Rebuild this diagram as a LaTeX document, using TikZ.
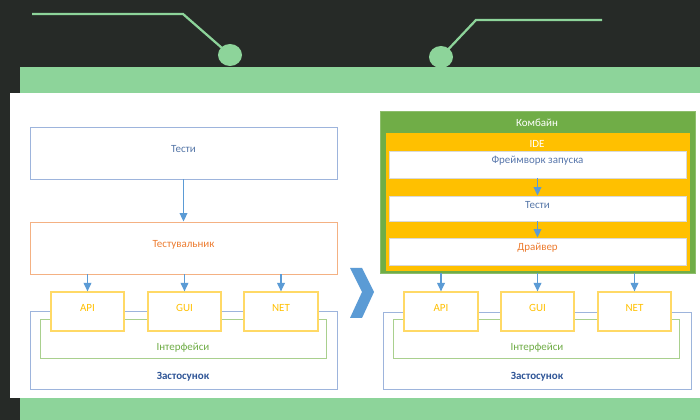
\documentclass[tikz,border=0pt]{standalone}
\usepackage{fontspec}
\setmainfont{Carlito}
\usetikzlibrary{arrows.meta,fit}
\definecolor{darkbg}{HTML}{262A27}
\definecolor{band}{HTML}{8DD49A}
\definecolor{boxblue}{HTML}{9DB4DC}
\definecolor{txtblue}{HTML}{5677A8}
\definecolor{navy}{HTML}{2F5597}
\definecolor{peach}{HTML}{F4B183}
\definecolor{tangerine}{HTML}{ED7D31}
\definecolor{sun}{HTML}{FFD966}
\definecolor{gold}{HTML}{FFC000}
\definecolor{leaf}{HTML}{A9D08E}
\definecolor{grass}{HTML}{70AD47}
\definecolor{arrowblue}{HTML}{5B9BD5}

\begin{document}
\begin{tikzpicture}[x=0.025cm,y=-0.025cm,font=\fontsize{7.8}{9}\selectfont,
  region/.style={inner sep=0pt,line width=0.7pt},
  port/.style={region,draw=sun,line width=0.9pt,fill=white,text=gold},
  panel/.style={region,fill=white,draw=black!15},
  link/.style={draw=arrowblue,line width=0.8pt,-{Triangle[length=6pt,width=5.5pt]}},
  wire/.style={draw=band,line width=1.6pt}]
% backdrop
\fill[darkbg] (0,0) rectangle (700,420);
\fill[band] (20,67) rectangle (700,93);
\fill[band] (20,398) rectangle (700,420);
\fill[white] (10,93) rectangle (700,398);
\draw[wire] (32,14) -- (183,14) -- (230,55);
\fill[band] (230,55) ellipse [x radius=12,y radius=11];
\draw[wire] (602,20) -- (476,20) -- (441,57);
\fill[band] (441,57) ellipse [x radius=12,y radius=11];

% left: before
\node[fit={(30,127) (337,179)},region,draw=boxblue,text=txtblue] (tests) {Тести};
\node[fit={(30,222) (337,274)},region,draw=peach,text=tangerine] (tester) {Тестувальник};
\node[fit={(30,311) (337,389)},region,draw=boxblue] (app) {};
\node[fit={(40,319) (326,358)},region,draw=leaf] (ifaces) {};
\node[text=grass] (ifaceslbl) at (183,348) {Інтерфейси};
\node[text=navy,font=\fontsize{7.8}{9}\selectfont\bfseries] (applbl) at (183,377) {Застосунок};
\node[port,fit={(51,292) (124,331)}] (api) {API};
\node[port,fit={(148,292) (221,331)}] (gui) {GUI};
\node[port,fit={(244,292) (318,331)}] (net) {NET};
\draw[link] (tests) -- (tester);
\foreach \p in {api,gui,net}
  \draw[link] (tester.south -| \p) -- (\p);

% chevron
\fill[arrowblue] (350,268) -- (362,268) -- (374,292) -- (362,318) -- (350,318) -- (362,292) -- cycle;

% right: after
\node[fit={(380,111) (695,273)},region,fill=grass,draw=grass!80!white] (combine) {};
\node[text=white] (combinelbl) at (537,123) {Комбайн};
\node[fit={(386,133) (690,271)},region,fill=gold] (ide) {};
\node[text=white] (idelbl) at (537,144) {IDE};
\node[panel,fit={(389,151) (686,178)},text=navy!80!white] (launch) {Фреймворк запуска};
\node[panel,fit={(389,196) (686,221)},text=txtblue] (rtests) {Тести};
\node[panel,fit={(389,238) (686,265)},text=tangerine] (driver) {Драйвер};
\draw[link] (launch) -- (rtests);
\draw[link] (rtests) -- (driver);
\node[fit={(383,312) (691,389)},region,draw=boxblue] (rapp) {};
\node[fit={(393,319) (679,358)},region,draw=leaf] (rifaces) {};
\node[text=grass] (rifaceslbl) at (537,348) {Інтерфейси};
\node[text=navy,font=\fontsize{7.8}{9}\selectfont\bfseries] (rapplbl) at (537,377) {Застосунок};
\node[port,fit={(404,292) (478,331)}] (rapi) {API};
\node[port,fit={(501,292) (574,331)}] (rgui) {GUI};
\node[port,fit={(598,292) (671,331)}] (rnet) {NET};
\foreach \p in {rapi,rgui,rnet}
  \draw[link] (combine.south -| \p) -- (\p);
\end{tikzpicture}
\end{document}
